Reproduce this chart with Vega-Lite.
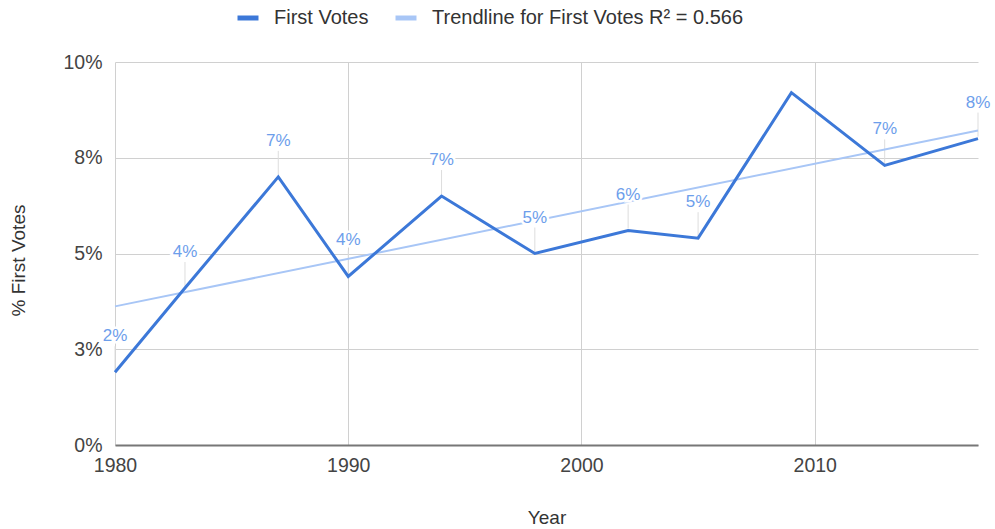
{
  "$schema": "https://vega.github.io/schema/vega-lite/v6.json",
  "width": 863,
  "height": 383,
  "autosize": {"type": "none"},
  "padding": {"left": 115, "top": 62, "right": 17, "bottom": 84},
  "background": "white",
  "config": {
    "font": "Liberation Sans",
    "view": {"stroke": null}
  },
  "data": {
    "values": [
      {"year": 1980, "share": 0.019},
      {"year": 1983, "share": 0.041},
      {"year": 1987, "share": 0.070},
      {"year": 1990, "share": 0.044},
      {"year": 1994, "share": 0.065},
      {"year": 1998, "share": 0.050},
      {"year": 2002, "share": 0.056},
      {"year": 2005, "share": 0.054},
      {"year": 2009, "share": 0.092},
      {"year": 2013, "share": 0.073},
      {"year": 2017, "share": 0.080}
    ]
  },
  "encoding": {
    "x": {
      "field": "year",
      "type": "quantitative",
      "scale": {"domain": [1980, 2017], "nice": false, "zero": false},
      "axis": {
        "title": "Year",
        "values": [1980, 1990, 2000, 2010],
        "format": "d",
        "labelFontSize": 19.5,
        "labelColor": "#444444",
        "labelPadding": 11,
        "labelFlush": false,
        "ticks": false,
        "domainColor": "#777777",
        "domainWidth": 2,
        "gridColor": "#d0d0d0",
        "gridWidth": 1,
        "titleFontSize": 19,
        "titleFontWeight": "normal",
        "titleColor": "#333333",
        "titlePadding": 34
      }
    },
    "y": {
      "field": "share",
      "type": "quantitative",
      "scale": {"domain": [0, 0.1], "nice": false},
      "axis": {
        "title": "% First Votes",
        "values": [0, 0.025, 0.05, 0.075, 0.1],
        "format": ".0%",
        "labelFontSize": 19.5,
        "labelColor": "#444444",
        "labelPadding": 13,
        "ticks": false,
        "domain": false,
        "gridColor": "#d0d0d0",
        "gridWidth": 1,
        "titleFontSize": 19,
        "titleFontWeight": "normal",
        "titleColor": "#333333",
        "titleAngle": 270,
        "titleX": -97,
        "titleY": 198,
        "titleAlign": "center",
        "titleBaseline": "middle"
      }
    }
  },
  "layer": [
    {
      "transform": [{"filter": "datum.year != 2009"}],
      "mark": {"type": "rule", "color": "#dddddd", "strokeWidth": 1, "yOffset": -2, "y2Offset": -26},
      "encoding": {"y2": {"field": "share"}}
    },
    {
      "transform": [{"regression": "share", "on": "year", "extent": [1980, 2017]}],
      "mark": {"type": "line", "strokeWidth": 2},
      "encoding": {
        "color": {
          "datum": "Trendline for First Votes R² = 0.566",
          "type": "nominal",
          "scale": {
            "domain": ["First Votes", "Trendline for First Votes R² = 0.566"],
            "range": ["#3c78d8", "#a8c6f6"]
          },
          "legend": {
            "title": null,
            "orient": "none",
            "legendX": 120,
            "legendY": -57,
            "direction": "horizontal",
            "symbolType": "stroke",
            "symbolStrokeWidth": 5,
            "symbolSize": 441,
            "labelFontSize": 20,
            "labelColor": "#333333",
            "labelOffset": 13,
            "labelLimit": 0,
            "columnPadding": 16
          }
        }
      }
    },
    {
      "mark": {"type": "line", "strokeWidth": 3},
      "encoding": {
        "color": {"datum": "First Votes", "type": "nominal"}
      }
    },
    {
      "transform": [{"filter": "datum.year != 2009"}],
      "mark": {"type": "text", "dy": -36, "fontSize": 17, "align": "center", "baseline": "middle", "fill": "white", "stroke": "white", "strokeWidth": 5},
      "encoding": {"text": {"field": "share", "format": ".0%"}}
    },
    {
      "transform": [{"filter": "datum.year != 2009"}],
      "mark": {"type": "text", "dy": -36, "fontSize": 17, "align": "center", "baseline": "middle", "color": "#6d9eeb"},
      "encoding": {"text": {"field": "share", "format": ".0%"}}
    }
  ]
}
